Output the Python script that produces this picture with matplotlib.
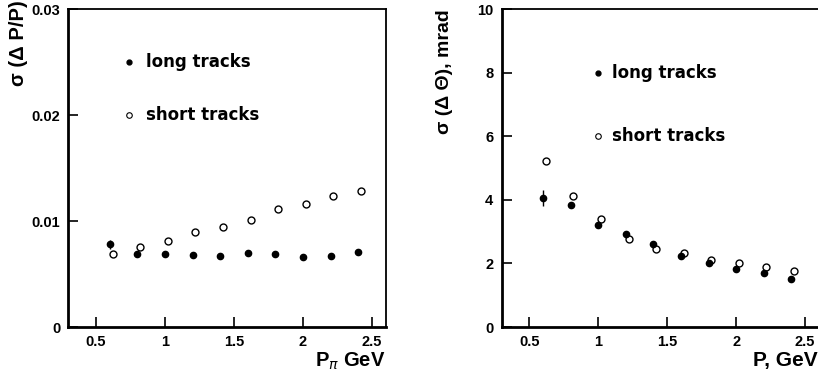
import numpy as np
import matplotlib.pyplot as plt

plt.rcParams['font.family'] = ['Liberation Sans', 'DejaVu Sans']
plt.rcParams['mathtext.fontset'] = 'dejavusans'

# momentum bins (GeV); short-track points are drawn slightly shifted in the original
p_long = [0.6, 0.8, 1.0, 1.2, 1.4, 1.6, 1.8, 2.0, 2.2, 2.4]
p_short = [0.62, 0.82, 1.02, 1.22, 1.42, 1.62, 1.82, 2.02, 2.22, 2.42]

# sigma(dP/P)
dpp_long = [0.0078, 0.0069, 0.0069, 0.0068, 0.0067, 0.0070, 0.0069, 0.0066, 0.0067, 0.0071]
dpp_long_err = [0.00045, 0, 0, 0, 0, 0, 0, 0, 0, 0]
dpp_short = [0.0069, 0.0076, 0.0081, 0.0090, 0.0094, 0.0101, 0.0111, 0.0116, 0.0124, 0.0128]

# sigma(dTheta), mrad
dth_long = [4.06, 3.83, 3.20, 2.92, 2.61, 2.24, 2.00, 1.84, 1.70, 1.52]
dth_long_err = [0.26, 0, 0, 0, 0, 0, 0, 0, 0, 0]
dth_short = [5.22, 4.12, 3.39, 2.77, 2.47, 2.33, 2.11, 2.00, 1.89, 1.76]

fig = plt.figure(figsize=(8.18, 3.77), dpi=100)
ax1 = fig.add_axes([0.0837, 0.1326, 0.388, 0.8427])
ax2 = fig.add_axes([0.6133, 0.1326, 0.3877, 0.8427])

def style(ax, yticks, yfmt):
    ax.set_xlim(0.3, 2.6)
    ax.set_xticks([0.5, 1, 1.5, 2, 2.5])
    ax.set_xticklabels(['0.5', '1', '1.5', '2', '2.5'])
    ax.set_yticks(yticks)
    ax.set_yticklabels([yfmt(v) for v in yticks])
    ax.tick_params(direction='in', length=7, width=1.2, labelsize=10.5, pad=6)
    for lab in ax.get_xticklabels() + ax.get_yticklabels():
        lab.set_fontweight('bold')
    for s in ax.spines.values():
        s.set_linewidth(1.3)
    ax.spines['left'].set_linewidth(2)
    ax.spines['bottom'].set_linewidth(2)

leg_font = dict(family=['DejaVu Sans'], fontsize=12, fontweight='bold', va='center')

# left panel
ax1.errorbar(p_long, dpp_long, yerr=dpp_long_err, fmt='o', color='black',
             ms=4.5, elinewidth=1, capsize=0)
ax1.plot(p_short, dpp_short, 'o', mfc='white', mec='black', mew=1, ms=5)
ax1.set_ylim(0, 0.03)
style(ax1, [0, 0.01, 0.02, 0.03], lambda v: '0' if v == 0 else f'{v:.2f}')
ax1.plot([0.74], [0.025], 'o', color='black', ms=3.5)
ax1.plot([0.74], [0.02], 'o', mfc='white', mec='black', mew=0.8, ms=4)
ax1.text(0.86, 0.025, 'long tracks', **leg_font)
ax1.text(0.86, 0.02, 'short tracks', **leg_font)
ax1.set_xlabel(r'P$_{\pi}$ GeV', fontsize=14.5, fontweight='bold', loc='right')
ax1.xaxis.set_label_coords(1.0, -0.075)
ax1.set_ylabel(r'σ (Δ P/P)', fontsize=14.5, fontweight='bold', loc='top')
ax1.yaxis.set_label_coords(-0.128, 1.028)

# right panel
ax2.errorbar(p_long, dth_long, yerr=dth_long_err, fmt='o', color='black',
             ms=4.5, elinewidth=1, capsize=0)
ax2.plot(p_short, dth_short, 'o', mfc='white', mec='black', mew=1, ms=5)
ax2.set_ylim(0, 10)
style(ax2, [0, 2, 4, 6, 8, 10], lambda v: f'{v:d}')
ax2.plot([1.0], [8], 'o', color='black', ms=3.5)
ax2.plot([1.0], [6], 'o', mfc='white', mec='black', mew=0.8, ms=4)
ax2.text(1.1, 8, 'long tracks', **leg_font)
ax2.text(1.1, 6, 'short tracks', **leg_font)
ax2.set_xlabel('P, GeV', fontsize=15, fontweight='bold', loc='right')
ax2.xaxis.set_label_coords(0.995, -0.075)
ax2.set_ylabel('σ (Δ Θ), mrad', fontsize=14, fontweight='bold', loc='top')
ax2.yaxis.set_label_coords(-0.154, 1.0)

fig.savefig('out.png', dpi=100)
